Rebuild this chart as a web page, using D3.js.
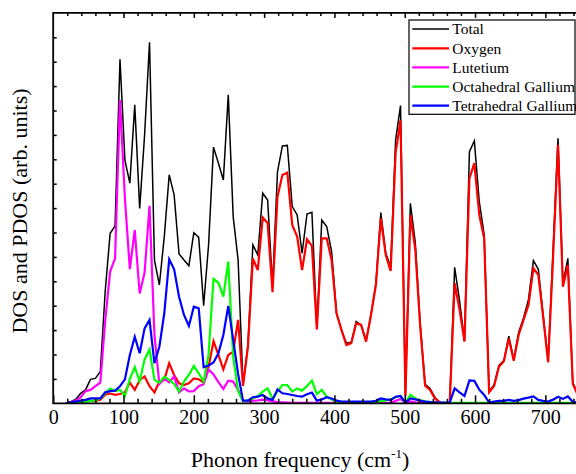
<!DOCTYPE html>
<html>
<head>
<meta charset="utf-8">
<script src="https://cdn.jsdelivr.net/npm/d3@7/dist/d3.min.js"></script>
<style>
  html, body { margin: 0; padding: 0; background: #fff; }
</style>
</head>
<body>
<svg id="chart" width="576" height="474"></svg>
<script>
// Phonon frequency grid (cm^-1)
const freq = [18,25,32,39,46,53,60,67,74,81,88,95,102,109,116,123,130,137,144,151,
  158,165,172,179,186,193,200,207,214,221,228,235,242,249,256,263,270,277,284,291,
  298,305,312,319,326,333,340,347,354,361,368,375,382,389,396,403,410,417,424,431,
  438,445,452,459,466,473,480,487,494,501,508,515,522,529,536,543,550,557,564,571,
  578,585,592,599,606,613,620,627,634,641,648,655,662,669,676,683,690,697,704,711,
  718,725,732,739,746];

const total = [0,0.07,0.16,0.41,0.55,0.98,1.02,1.30,4.6,6.97,7.27,14.1,9.97,9.02,12.23,7.99,11.0,14.8,5.87,4.85,
  6.83,9.36,8.54,6.12,5.87,5.64,6.99,6.80,4.0,6.5,10.5,9.84,9.15,12.64,7.65,5.87,0.75,2.4,6.49,6.08,
  8.61,8.33,4.78,9.49,10.55,10.57,8.06,7.72,6.15,7.76,7.83,3.07,7.51,7.24,6.22,3.69,3.01,2.46,2.5,3.35,
  3.21,2.57,3.62,4.92,7.82,6.15,5.6,10.79,12.2,0.35,8.2,6.6,3.25,0.78,0.61,0.24,0.04,0.01,0.01,5.57,
  4.2,2.55,10.31,10.75,8.27,6.9,0.5,0.75,1.55,1.75,2.75,1.8,2.9,3.5,4.25,5.85,5.49,3.6,1.75,6.3,
  10.86,4.9,5.94,0.85,0.4];

const oxygen = [0,0,0.02,0.05,0.08,0.1,0.1,0.15,0.35,0.4,0.35,0.38,0.45,0.85,0.55,0.95,1.1,0.7,0.45,0.89,
  0.96,1.64,1.16,0.82,0.75,0.82,1.02,0.98,0.85,1.5,2.55,1.98,1.39,1.98,2.12,3.42,0.71,2.32,5.94,5.46,
  7.62,7.38,4.55,8.47,9.36,9.45,7.31,6.83,5.46,6.72,6.45,3.03,6.76,6.76,5.87,3.69,3.01,2.39,2.46,3.28,
  3.21,2.53,3.62,4.85,7.58,6.08,5.42,10.25,11.6,0.3,7.72,6.3,3.15,0.72,0.55,0.2,0.03,0,0,4.92,
  3.83,2.53,9.22,9.84,7.72,6.76,0.45,0.7,1.5,1.72,2.66,1.74,2.8,3.42,4.03,5.53,5.26,3.5,1.68,6.0,
  10.59,4.78,5.67,0.8,0.35];

const lutetium = [0,0.03,0.1,0.25,0.5,0.55,0.7,0.85,3.4,5.4,5.94,12.43,8.4,5.5,7.1,4.5,5.36,8.09,2.8,0.79,
  1.0,0.86,1.1,0.45,0.61,0.49,0.5,0.7,0.78,1.39,1.18,0.87,0.59,0.93,0.89,0.55,0.1,0.08,0.1,0.12,
  0.15,0.12,0.08,0.05,0.04,0.03,0.02,0.02,0.02,0.02,0.02,0.02,0.02,0.02,0.02,0.02,0.02,0.02,0.02,0.02,
  0.02,0.02,0.02,0.02,0.02,0.02,0.03,0.1,0.18,0.02,0.08,0.04,0.01,0.01,0.01,0.01,0.01,0.01,0.01,0.01,
  0.01,0.01,0.01,0.01,0.01,0.01,0.01,0.01,0.01,0.01,0.01,0.01,0.01,0.01,0.01,0.01,0.01,0.01,0.01,0.01,
  0.01,0.01,0.01,0.01,0.01];

const octGallium = [0,0,0.02,0.05,0.07,0.1,0.12,0.2,0.4,0.6,0.5,0.55,0.3,1.0,1.48,0.9,1.8,2.2,0.96,0.85,
  1.09,0.96,0.79,0.48,0.89,1.16,1.53,1.23,0.89,2.0,5.1,4.94,4.37,5.81,1.9,0.5,0.08,0.12,0.2,0.3,
  0.48,0.61,0.2,0.48,0.75,0.75,0.48,0.61,0.52,0.71,0.93,0.38,0.55,0.27,0.16,0.07,0.05,0.04,0.04,0.04,
  0.04,0.04,0.04,0.04,0.1,0.12,0.15,0.25,0.3,0.03,0.35,0.2,0.12,0.08,0.05,0.03,0.02,0.02,0.02,0.02,
  0.02,0.02,0.02,0.02,0.02,0.02,0.02,0.02,0.02,0.02,0.02,0.02,0.02,0.02,0.02,0.02,0.02,0.02,0.02,0.02,
  0.02,0.02,0.02,0.02,0.02];

const tetGallium = [0,0.03,0.07,0.11,0.14,0.2,0.2,0.2,0.45,0.5,0.52,0.7,0.98,1.98,2.73,2.05,3.07,3.42,1.64,2.32,
  3.69,5.9,5.49,4.37,3.62,3.17,3.96,3.89,1.48,1.55,1.67,2.05,2.8,3.99,2.6,1.2,0.11,0.11,0.25,0.27,
  0.34,0.2,0.14,0.57,0.41,0.38,0.34,0.3,0.27,0.37,0.44,0.11,0.16,0.25,0.2,0.11,0.07,0.07,0.07,0.07,
  0.07,0.07,0.07,0.1,0.2,0.16,0.14,0.27,0.3,0.03,0.2,0.16,0.11,0.07,0.05,0.04,0.03,0.03,0.03,0.61,
  0.45,0.3,0.94,0.92,0.56,0.34,0.03,0.07,0.1,0.1,0.14,0.1,0.13,0.19,0.23,0.28,0.14,0.1,0.07,0.15,
  0.27,0.18,0.28,0.06,0.03];

const seriesNames = ["Total", "Oxygen", "Lutetium", "Octahedral Gallium", "Tetrahedral Gallium"];
const seriesColors = ["#000000", "#ff0000", "#ff00ff", "#00ff00", "#0000ff"];
const seriesWidths = [1.5, 2.2, 2.2, 2.2, 2.2];
const seriesValues = [total, oxygen, lutetium, octGallium, tetGallium];

const xMajorTicks = [0, 100, 200, 300, 400, 500, 600, 700];

const FONT = "'Liberation Serif', 'Times New Roman', Tinos, 'DejaVu Serif', serif";

const svg = d3.select("#chart");
const plotLeft = 53.2, plotTop = 12.9, plotBottom = 403.3, plotRight = 580.5;

const x = d3.scaleLinear().domain([0, 750]).range([plotLeft, plotRight]);
const y = d3.scaleLinear().domain([0, 16]).range([plotBottom, plotTop]);

svg.append("defs").append("clipPath").attr("id", "plotClip")
  .append("rect").attr("x", plotLeft).attr("y", plotTop - 2)
  .attr("width", plotRight - plotLeft).attr("height", plotBottom - plotTop + 2);

// DOS curves
const line = d3.line().x((d, i) => x(freq[i])).y(d => y(d));
const curves = svg.append("g").attr("clip-path", "url(#plotClip)");
seriesValues.forEach((vals, k) => {
  curves.append("path")
    .datum(vals)
    .attr("fill", "none")
    .attr("stroke", seriesColors[k])
    .attr("stroke-width", seriesWidths[k])
    .attr("stroke-linejoin", "miter")
    .attr("d", line);
});

// Axes: inward ticks, minor every 20 cm^-1
const minor = d3.range(20, 750, 20).filter(v => v % 100 !== 0);
const axisStyle = g => {
  g.select(".domain").remove();
  g.selectAll(".tick line").attr("stroke", "#000").attr("stroke-width", 1.5);
};

svg.append("g").attr("transform", `translate(0,${plotBottom})`)
  .call(d3.axisBottom(x).tickValues(minor).tickSize(-4.5).tickFormat(""))
  .call(axisStyle);
svg.append("g").attr("transform", `translate(0,${plotBottom})`)
  .call(d3.axisBottom(x).tickValues(xMajorTicks).tickSize(-8).tickPadding(7).tickFormat(d3.format("d")))
  .call(axisStyle)
  .call(g => g.attr("font-family", null).attr("font-size", null))
  .call(g => g.selectAll("text").style("font-family", FONT).style("font-size", "20px").attr("fill", "#000"));

svg.append("g").attr("transform", `translate(0,${plotTop})`)
  .call(d3.axisTop(x).tickValues(minor).tickSize(-3).tickFormat(""))
  .call(axisStyle);
svg.append("g").attr("transform", `translate(0,${plotTop})`)
  .call(d3.axisTop(x).tickValues(xMajorTicks.slice(1)).tickSize(-5).tickFormat(""))
  .call(axisStyle);

svg.append("g").attr("transform", `translate(${plotLeft},0)`)
  .call(d3.axisLeft(y).tickValues(d3.range(1, 16)).tickSize(-3.5).tickFormat(""))
  .call(axisStyle);

// Frame
svg.append("path")
  .attr("d", `M${plotRight},${plotTop}H${plotLeft}V${plotBottom}H${plotRight}`)
  .attr("fill", "none").attr("stroke", "#000").attr("stroke-width", 1.8);

// Axis titles
svg.append("text")
  .attr("transform", "translate(27,211) rotate(-90)")
  .attr("text-anchor", "middle")
  .style("font-family", FONT).style("font-size", "22px")
  .text("DOS and PDOS (arb. units)");

const xt = svg.append("text")
  .attr("x", 300).attr("y", 467)
  .attr("text-anchor", "middle")
  .style("font-family", FONT).style("font-size", "22px");
xt.append("tspan").text("Phonon frequency (cm");
xt.append("tspan").style("font-size", "13px").attr("dy", -9).text("-1");
xt.append("tspan").attr("dy", 9).text(")");

// Legend
const legend = svg.append("g");
legend.append("rect")
  .attr("x", 409).attr("y", 20).attr("width", 166).attr("height", 94.3)
  .attr("fill", "#fff").attr("stroke", "#000").attr("stroke-width", 1.2);
const rowY = [29, 48.3, 67.3, 86.7, 105.7];
seriesNames.forEach((name, k) => {
  legend.append("line")
    .attr("x1", 412.3).attr("x2", 449).attr("y1", rowY[k]).attr("y2", rowY[k])
    .attr("stroke", seriesColors[k]).attr("stroke-width", seriesWidths[k]);
  legend.append("text")
    .attr("x", 452.3).attr("y", rowY[k] + 5.2)
    .style("font-family", FONT).style("font-size", "15.5px")
    .text(name);
});
</script>
</body>
</html>
